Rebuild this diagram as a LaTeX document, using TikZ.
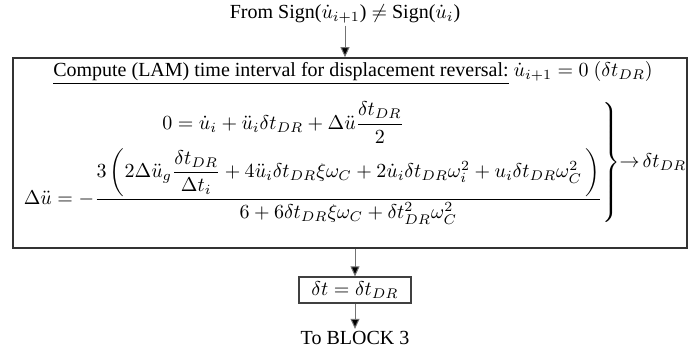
\documentclass[tikz,border=0pt]{standalone}
\usepackage{amsmath,amssymb}
\usepackage{fontspec}
\setmainfont{Liberation Serif}
\usepackage{tikz}
\usetikzlibrary{arrows.meta,positioning,calc}
\tikzset{
  blockbox/.style={
    draw=black!80,
    line width=0.8pt,
    inner sep=0pt
  },
  resultbox/.style={
    draw=black!75,
    line width=0.6pt,
    inner xsep=3pt,
    inner ysep=1pt,
    minimum width=56pt,
    minimum height=13pt
  },
  labeltext/.style={inner sep=1pt},
  flow/.style={-{Triangle[length=5pt,width=4.5pt,fill=black]}, line width=0.5pt, draw=black!55}
}

\begin{document}
\begin{tikzpicture}[
  x=0.5pt, y=-0.5pt,
  every node/.style={font=\normalsize}
]
\useasboundingbox (0,0) rectangle (689,356);

\node[labeltext] (from) at (345,14) {From Sign($\dot{u}_{i+1}$) $\neq$ Sign($\dot{u}_i$)};
\node[blockbox, minimum width=337pt, minimum height=95pt] (lam) at (350,153) {};
\node[labeltext] (title) at (353,73) {\underline{Compute (LAM) time interval for displacement reversal:} $\dot{u}_{i+1}=0\ (\delta t_{DR})$};
\node[labeltext, anchor=west] (eqs) at (19,163) {$\left.\begin{array}{@{}c@{}}
  \displaystyle 0=\dot{u}_i+\ddot{u}_i\delta t_{DR}+\Delta\ddot{u}\frac{\delta t_{DR}}{2}\hspace{30pt}\\[6pt]
  \displaystyle \Delta\ddot{u}=-\frac{3\left(2\Delta\ddot{u}_g\dfrac{\delta t_{DR}}{\Delta t_i}+4\ddot{u}_i\delta t_{DR}\xi\omega_C+2\dot{u}_i\delta t_{DR}\omega_i^2+u_i\delta t_{DR}\omega_C^2\,\right)}{6+6\delta t_{DR}\xi\omega_C+\delta t_{DR}^2\omega_C^2}
\end{array}\right\}\hspace{-2pt}{\to}\hspace{1.5pt}\delta t_{DR}$};
\node[resultbox] (dt) at (355,290) {$\delta t=\delta t_{DR}$};
\node[labeltext] (to) at (355,338) {To BLOCK 3};

\draw[flow] (from) -- (lam.north -| from);
\draw[flow] (lam.south -| dt) -- (dt);
\draw[flow] (dt) -- (to);
\end{tikzpicture}
\end{document}
